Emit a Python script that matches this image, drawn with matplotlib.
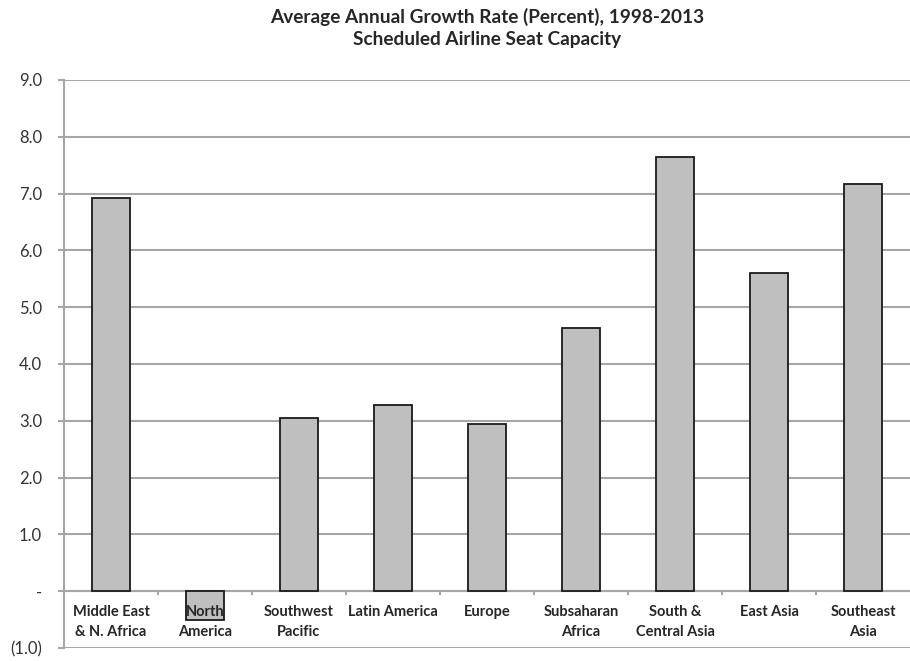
import numpy as np
import matplotlib.pyplot as plt
from matplotlib.ticker import FixedLocator

regions = ["Middle East\n& N. Africa", "North\nAmerica", "Southwest\nPacific", "Latin America",
           "Europe", "Subsaharan\nAfrica", "South &\nCentral Asia", "East Asia", "Southeast\nAsia"]
growth = [6.92, -0.51, 3.05, 3.27, 2.95, 4.63, 7.65, 5.6, 7.17]
yticks = [-1, 0, 1, 2, 3, 4, 5, 6, 7, 8, 9]
ylabels = ["(1.0)", "-", "1.0", "2.0", "3.0", "4.0", "5.0", "6.0", "7.0", "8.0", "9.0"]

plt.rcParams['font.family'] = ['Lato', 'DejaVu Sans']

fig = plt.figure(figsize=(9.1, 6.61), dpi=100)
ax = fig.add_axes([64 / 910, 13 / 661, 846 / 910, 568 / 661])

x = np.arange(len(regions))
ax.bar(x, growth, width=0.41, color='#BFBFBF', edgecolor='#1a1a1a', linewidth=1.3, zorder=3)

ax.set_xlim(-0.5, len(regions) - 0.5)
ax.set_ylim(-1, 9)
ax.set_yticks(yticks)
ax.set_yticklabels(ylabels, fontsize=12, color='#333333')
ax.grid(axis='y', color='#A6A6A6', linewidth=1.5)
# grid behind the bars, category labels on top of them
ax.yaxis.set_zorder(1)
ax.xaxis.set_zorder(5)

ax.spines['bottom'].set_position(('data', 0))
for s in ['top', 'right']:
    ax.spines[s].set_visible(False)
for s in ['left', 'bottom']:
    ax.spines[s].set_color('#A6A6A6')
    ax.spines[s].set_linewidth(1.5)
    ax.spines[s].set_zorder(2)

ax.set_xticks(x)
ax.set_xticklabels(regions, fontsize=10.5, fontweight='bold', color='#262626', linespacing=1.55)
ax.tick_params(axis='x', which='major', length=0, pad=10)
ax.xaxis.set_minor_locator(FixedLocator(np.arange(0.5, len(regions) - 0.5, 1)))
ax.tick_params(axis='x', which='minor', length=3, color='#A6A6A6', width=1.5, direction='out')
ax.tick_params(axis='y', length=4.3, color='#A6A6A6', width=1.5, pad=11.5)

fig.text((64 + 910) / 2 / 910, 1 - 8 / 661, "Average Annual Growth Rate (Percent), 1998-2013\nScheduled Airline Seat Capacity",
         ha='center', va='top', fontsize=13.7, fontweight='bold', color='#262626', linespacing=1.35)

fig.savefig("out.png", dpi=100)
